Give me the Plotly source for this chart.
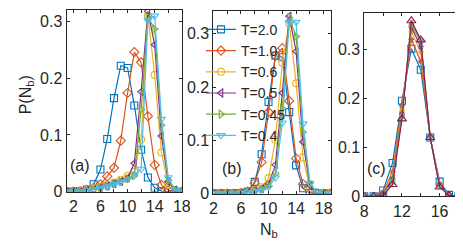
import plotly.graph_objects as go

W, H = 463, 245

# ---------------- data ----------------
labels = ["T=2.0", "T=1.0", "T=0.6", "T=0.5", "T=0.45", "T=0.4"]
colors = ["#0072BD", "#D95319", "#EDB120", "#7E2F8E", "#77AC30", "#4DBEEE"]
symbols = ["square-open", "diamond-open", "circle-open", "triangle-left-open",
           "triangle-right-open", "triangle-down-open"]

nb_a = list(range(1, 19))
pa_T20 = [0, 0, 0.001, 0.004, 0.013, 0.039, 0.093, 0.165, 0.222, 0.218, 0.152, 0.074, 0.025, 0.007, 0.001, 0, 0, 0]
pa_T10 = [0, 0, 0.001, 0.003, 0.007, 0.013, 0.027, 0.042, 0.090, 0.174, 0.246, 0.228, 0.133, 0.047, 0.012, 0.003, 0, 0]
pa_T06 = [0, 0, 0.001, 0.003, 0.006, 0.009, 0.012, 0.016, 0.021, 0.028, 0.035, 0.092, 0.310, 0.206, 0.069, 0.012, 0.002, 0]
pa_T05 = [0, 0, 0, 0.002, 0.004, 0.007, 0.010, 0.014, 0.018, 0.024, 0.050, 0.176, 0.318, 0.259, 0.098, 0.018, 0.003, 0]
pa_T045 = [0, 0, 0, 0.002, 0.004, 0.007, 0.010, 0.014, 0.018, 0.023, 0.028, 0.145, 0.308, 0.287, 0.117, 0.020, 0.003, 0]
pa_T04 = [0, 0, 0, 0.002, 0.004, 0.006, 0.009, 0.013, 0.017, 0.022, 0.030, 0.040, 0.302, 0.310, 0.128, 0.025, 0.003, 0]

nb_b = list(range(2, 20))
pb_T20 = [0, 0, 0, 0, 0.001, 0.004, 0.022, 0.074, 0.172, 0.259, 0.256, 0.153, 0.053, 0.010, 0.001, 0, 0, 0]
pb_T10 = [0, 0, 0, 0, 0.001, 0.004, 0.020, 0.059, 0.153, 0.259, 0.273, 0.174, 0.066, 0.018, 0.002, 0, 0, 0]
pb_T06 = [0, 0, 0, 0, 0.001, 0.002, 0.006, 0.012, 0.029, 0.101, 0.246, 0.320, 0.207, 0.068, 0.010, 0.001, 0, 0]
pb_T05 = [0, 0, 0, 0, 0.001, 0.002, 0.005, 0.009, 0.018, 0.054, 0.189, 0.333, 0.267, 0.097, 0.015, 0.001, 0, 0]
pb_T045 = [0, 0, 0, 0, 0.001, 0.002, 0.005, 0.008, 0.015, 0.038, 0.160, 0.330, 0.295, 0.115, 0.020, 0.002, 0, 0]
pb_T04 = [0, 0, 0, 0, 0.001, 0.002, 0.004, 0.007, 0.012, 0.030, 0.133, 0.322, 0.322, 0.131, 0.020, 0.002, 0, 0]

nb_c = list(range(8, 19))
pc_series = [
    [0, 0, 0.012, 0.068, 0.195, 0.301, 0.258, 0.120, 0.030, 0.003, 0],
    [0, 0, 0.008, 0.050, 0.185, 0.320, 0.275, 0.120, 0.025, 0.002, 0],
    [0, 0, 0.006, 0.042, 0.175, 0.335, 0.295, 0.120, 0.024, 0.002, 0],
    [0, 0, 0.005, 0.036, 0.168, 0.345, 0.305, 0.120, 0.022, 0.002, 0],
    [0, 0, 0.004, 0.032, 0.165, 0.350, 0.315, 0.120, 0.021, 0.002, 0],
    [0, 0, 0.003, 0.028, 0.162, 0.355, 0.318, 0.120, 0.020, 0.002, 0],
    [0, 0, 0.002, 0.024, 0.158, 0.358, 0.319, 0.120, 0.019, 0.002, 0],
]
pc_colors = ["#0072BD", "#D95319", "#EDB120", "#7E2F8E", "#77AC30", "#4DBEEE", "#A2142F"]
pc_symbols = ["square-open", "asterisk-open", "asterisk-open", "asterisk-open",
              "asterisk-open", "asterisk-open", "triangle-up-open"]
pc_sizes = [7, 5, 5, 5, 5, 5, 8]

xtick_a = [2, 6, 10, 14, 18]
xminor_a = [4, 8, 12, 16]
xtick_c = [8, 12, 16]
xminor_c = [10, 14, 18]
ytick = [0, 0.1, 0.2, 0.3]

pa = [pa_T20, pa_T10, pa_T06, pa_T05, pa_T045, pa_T04]
pb = [pb_T20, pb_T10, pb_T06, pb_T05, pb_T045, pb_T04]

# ---------------- figure ----------------
fig = go.Figure()
for i in range(6):
    fig.add_trace(go.Scatter(x=nb_a, y=pa[i], mode="lines+markers", showlegend=False,
                             line=dict(color=colors[i], width=1.2),
                             marker=dict(symbol=symbols[i], size=7, color=colors[i], line=dict(width=1.1)),
                             xaxis="x", yaxis="y", cliponaxis=True))
for i in range(6):
    fig.add_trace(go.Scatter(x=nb_b, y=pb[i], mode="lines+markers", name=labels[i],
                             line=dict(color=colors[i], width=1.2),
                             marker=dict(symbol=symbols[i], size=7, color=colors[i], line=dict(width=1.1)),
                             xaxis="x2", yaxis="y2", cliponaxis=True))
for i in range(7):
    fig.add_trace(go.Scatter(x=nb_c, y=pc_series[i], mode="lines+markers", showlegend=False,
                             line=dict(color=pc_colors[i], width=1.2),
                             marker=dict(symbol=pc_symbols[i], size=pc_sizes[i], color=pc_colors[i],
                                         line=dict(width=1.1, color=pc_colors[i])),
                             xaxis="x3", yaxis="y3", cliponaxis=True))

AX = "#262626"
FONT = "Liberation Sans, Arial, sans-serif"

def px_x(p):
    return p / W

def px_y(p):
    return 1 - p / H

def xa(dom, rng, tv, mv, anchor):
    return dict(domain=[px_x(dom[0]), px_x(dom[1])], range=rng, tickvals=tv,
                minor=dict(tickvals=mv, ticks="inside", ticklen=3, tickcolor=AX, showgrid=False),
                showline=True, mirror="allticks", linecolor=AX, linewidth=1, ticks="inside",
                ticklen=3, tickcolor=AX, showgrid=False, zeroline=False, anchor=anchor,
                tickfont=dict(size=16, color=AX, family=FONT))

def ya(dom, rng, anchor):
    return dict(domain=[px_y(dom[1]), px_y(dom[0])], range=rng, tickvals=ytick,
                showline=True, mirror="allticks", linecolor=AX, linewidth=1, ticks="inside",
                ticklen=3, tickcolor=AX, showgrid=False, zeroline=False, anchor=anchor,
                tickfont=dict(size=16, color=AX, family=FONT))

fig.update_layout(
    width=W, height=H, margin=dict(l=0, r=0, t=0, b=0),
    paper_bgcolor="white", plot_bgcolor="white",
    font=dict(family=FONT, color=AX),
    xaxis=xa((56, 175), [1, 18.1], xtick_a, xminor_a, "y"),
    yaxis=ya((2, 190.7), [0, 0.3204], "x"),
    xaxis2=xa((206.7, 328), [2, 19.13], xtick_a, xminor_a, "y2"),
    yaxis2=ya((3.3, 192.7), [0, 0.3425], "x2"),
    xaxis3=xa((361.7, 458.3), [8, 18], xtick_c, xminor_c, "y3"),
    yaxis3=ya((5, 195.5), [0, 0.3742], "x3"),
    legend=dict(x=px_x(194), y=px_y(6), xanchor="left", yanchor="top",
                bgcolor="rgba(0,0,0,0)", font=dict(size=14, color=AX, family=FONT),
                tracegroupgap=0, itemwidth=30),
    showlegend=True,
)

annots = [
    dict(text="(a)", x=px_x(70), y=px_y(163)),
    dict(text="(b)", x=px_x(226), y=px_y(167)),
    dict(text="(c)", x=px_x(374), y=px_y(167)),
    dict(text="N<sub>b</sub>", x=px_x(264), y=px_y(231)),
]
for a in annots:
    fig.add_annotation(xref="paper", yref="paper", x=a["x"], y=a["y"], text=a["text"],
                       showarrow=False, font=dict(size=16, color=AX, family=FONT),
                       xanchor="center", yanchor="middle")
fig.add_annotation(xref="paper", yref="paper", x=px_x(15), y=px_y(90), text="P(N<sub>b</sub>)",
                   showarrow=False, textangle=-90, font=dict(size=16, color=AX, family=FONT),
                   xanchor="center", yanchor="middle")

fig.write_html("out.html")
